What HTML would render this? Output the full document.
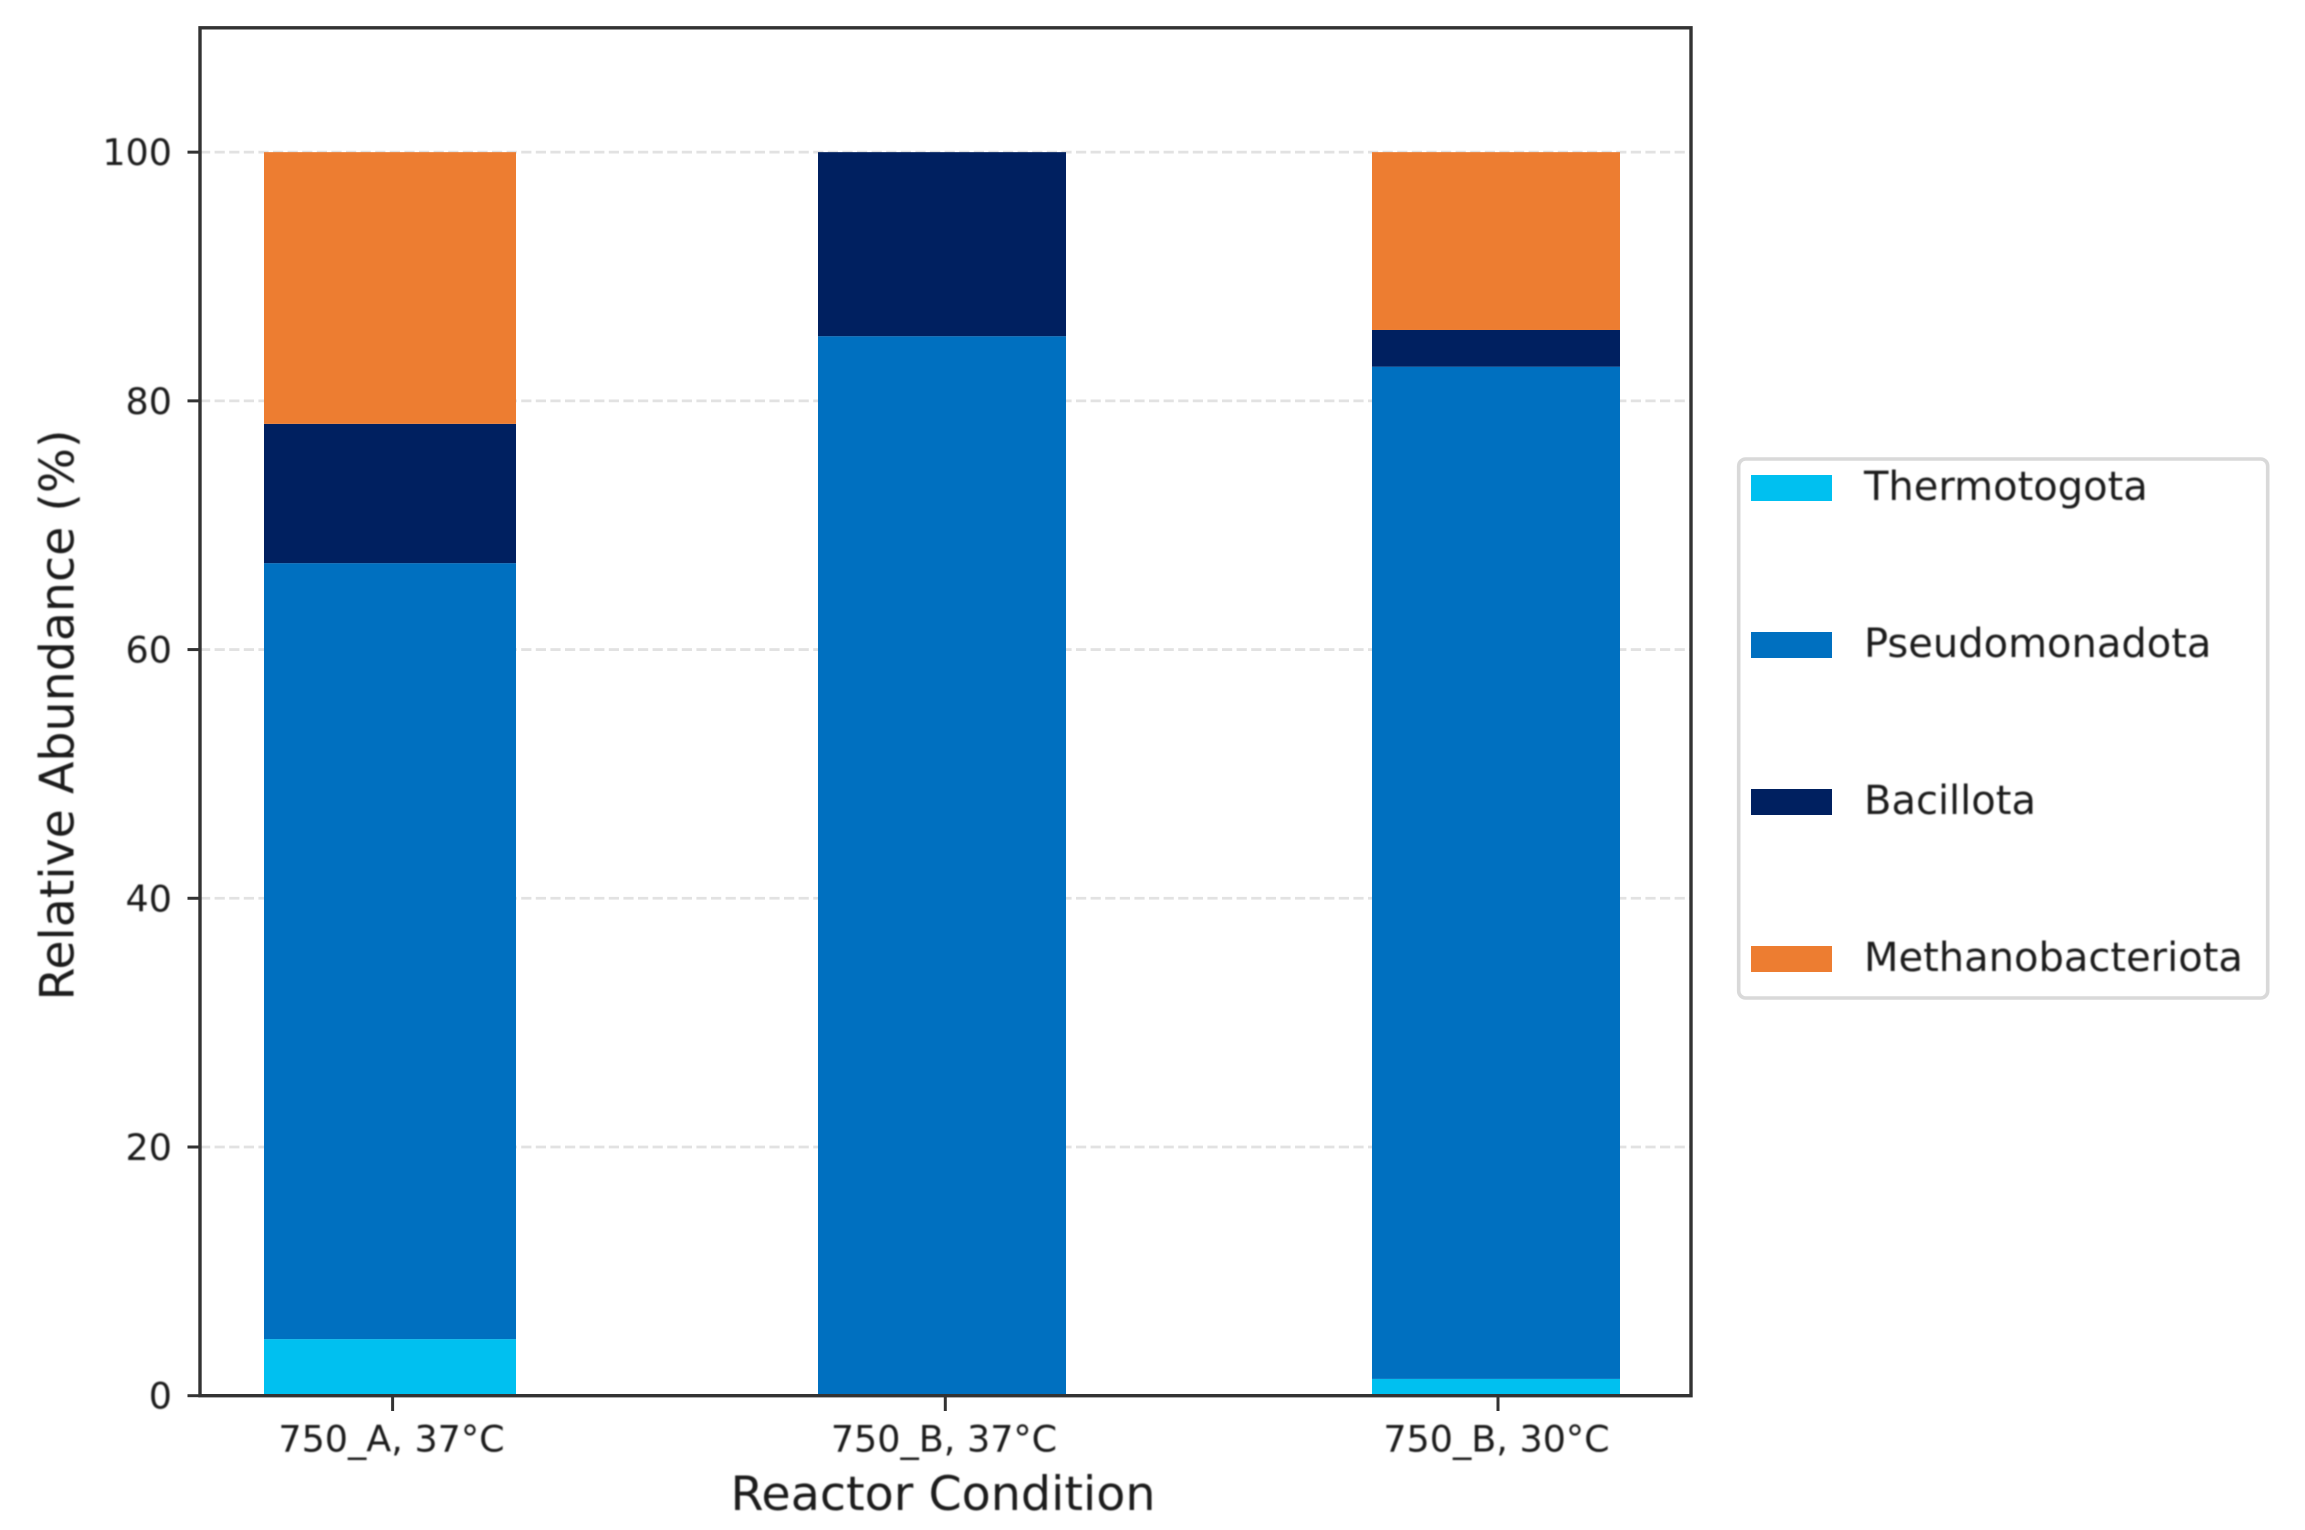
<!DOCTYPE html>
<html lang="en">
<head>
<meta charset="utf-8">
<title>Relative Abundance by Reactor Condition</title>
<style>
  html, body { margin: 0; padding: 0; background: #ffffff; }
  body { width: 2305px; height: 1530px; overflow: hidden; }
  svg { display: block; }
  text { font-family: "DejaVu Sans", "Liberation Sans", sans-serif; fill: #1c1c1c; }
  #labels, #legend-labels { filter: blur(0.8px); }
</style>
</head>
<body>
<svg id="chart" xmlns="http://www.w3.org/2000/svg" width="2305" height="1530" viewBox="0 0 2305 1530">
  <rect x="0" y="0" width="2305" height="1530" fill="#ffffff"/>
  <g id="grid"></g>
  <g id="bars"></g>
  <g id="axes"></g>
  <g id="labels">
    <text x="943" y="1510" font-size="47" text-anchor="middle" textLength="425" lengthAdjust="spacingAndGlyphs">Reactor Condition</text>
    <text transform="translate(73.5 715) rotate(-90)" x="0" y="0" font-size="47" text-anchor="middle" textLength="571" lengthAdjust="spacingAndGlyphs">Relative Abundance (%)</text>
  </g>
  <g id="legend">
    <rect x="1738.7" y="459" width="529" height="539" rx="7" ry="7" fill="#ffffff" stroke="#d9d9d9" stroke-width="3.6"/>
    <g id="legend-swatches"></g>
    <g id="legend-labels"></g>
  </g>
</svg>
<script>
const categories = ["750_A, 37°C", "750_B, 37°C", "750_B, 30°C"];
const seriesNames = ["Thermotogota", "Pseudomonadota", "Bacillota", "Methanobacteriota"];
const seriesColors = ["#00c0f0", "#0070c0", "#002060", "#ed7d31"];
const thermotogota = [4.55, 0, 1.35];
const pseudomonadota = [62.4, 85.2, 81.4];
const bacillota = [11.2, 14.8, 2.95];
const methanobacteriota = [21.85, 0, 14.3];
const yTicks = [0, 20, 40, 60, 80, 100];
const yMax = 110;

const allSeries = [thermotogota, pseudomonadota, bacillota, methanobacteriota];
const NS = "http://www.w3.org/2000/svg";
const plotLeft = 200, plotRight = 1691, plotTop = 27.8, plotBottom = 1395.7;

function yScale(v) {
  return plotBottom - (v / yMax) * (plotBottom - plotTop);
}
function barLeft(i) {
  return 264 + 554 * i;
}
function barWidth(i) {
  return i === 0 ? 252 : 248;
}
function tickX(i) {
  return 392.6 + 552.7 * i;
}
function labelX(i) {
  return 391.5 + 552.5 * i;
}
function make(tag, parentId) {
  const el = document.createElementNS(NS, tag);
  document.getElementById(parentId).appendChild(el);
  return el;
}

yTicks.forEach(function (t) {
  const line = make("line", "grid");
  
  
  line.setAttribute("x1", plotLeft);
  line.setAttribute("x2", plotRight);
  line.setAttribute("y1", yScale(t));
  line.setAttribute("y2", yScale(t));
  line.setAttribute("stroke", "#e2e2e2");
  line.setAttribute("stroke-width", "2.8");
  line.setAttribute("stroke-dasharray", "10.2 4.4");
});

categories.forEach(function (cat, i) {
  let base = 0;
  allSeries.forEach(function (values, s) {
    const v = values[i];
    if (v > 0) {
      const rect = make("rect", "bars");
      
      
      rect.setAttribute("x", barLeft(i));
      rect.setAttribute("width", barWidth(i));
      rect.setAttribute("y", yScale(base + v));
      rect.setAttribute("height", yScale(base) - yScale(base + v));
      rect.setAttribute("fill", seriesColors[s]);
    }
    base += v;
  });
});

const frame = make("rect", "axes");


frame.setAttribute("x", plotLeft);
frame.setAttribute("y", plotTop);
frame.setAttribute("width", plotRight - plotLeft);
frame.setAttribute("height", plotBottom - plotTop);
frame.setAttribute("fill", "none");
frame.setAttribute("stroke", "#333333");
frame.setAttribute("stroke-width", "3.4");

yTicks.forEach(function (t) {
  const tick = make("line", "axes");
  
  
  tick.setAttribute("x1", 187.5);
  tick.setAttribute("x2", plotLeft);
  tick.setAttribute("y1", yScale(t));
  tick.setAttribute("y2", yScale(t));
  tick.setAttribute("stroke", "#333333");
  tick.setAttribute("stroke-width", "3");

  const label = make("text", "labels");
  
  
  label.setAttribute("x", 172);
  label.setAttribute("y", yScale(t) + 13);
  label.setAttribute("font-size", "36.5");
  label.setAttribute("text-anchor", "end");
  label.textContent = String(t);
});

categories.forEach(function (cat, i) {
  const tick = make("line", "axes");
  
  
  tick.setAttribute("x1", tickX(i));
  tick.setAttribute("x2", tickX(i));
  tick.setAttribute("y1", plotBottom);
  tick.setAttribute("y2", 1411);
  tick.setAttribute("stroke", "#333333");
  tick.setAttribute("stroke-width", "3");

  const label = make("text", "labels");
  
  
  label.setAttribute("x", labelX(i));
  label.setAttribute("y", 1451.7);
  label.setAttribute("font-size", "36.5");
  label.setAttribute("text-anchor", "middle");
  label.textContent = cat;
});

seriesNames.forEach(function (name, s) {
  const swatch = make("rect", "legend-swatches");
  
  
  swatch.setAttribute("x", 1751);
  swatch.setAttribute("y", 475 + 157 * s);
  swatch.setAttribute("width", 81);
  swatch.setAttribute("height", 26);
  swatch.setAttribute("fill", seriesColors[s]);

  const label = make("text", "legend-labels");
  
  
  label.setAttribute("x", 1864);
  label.setAttribute("y", 500 + 157 * s);
  label.setAttribute("font-size", "40");
  label.textContent = name;
});
</script>
</body>
</html>
